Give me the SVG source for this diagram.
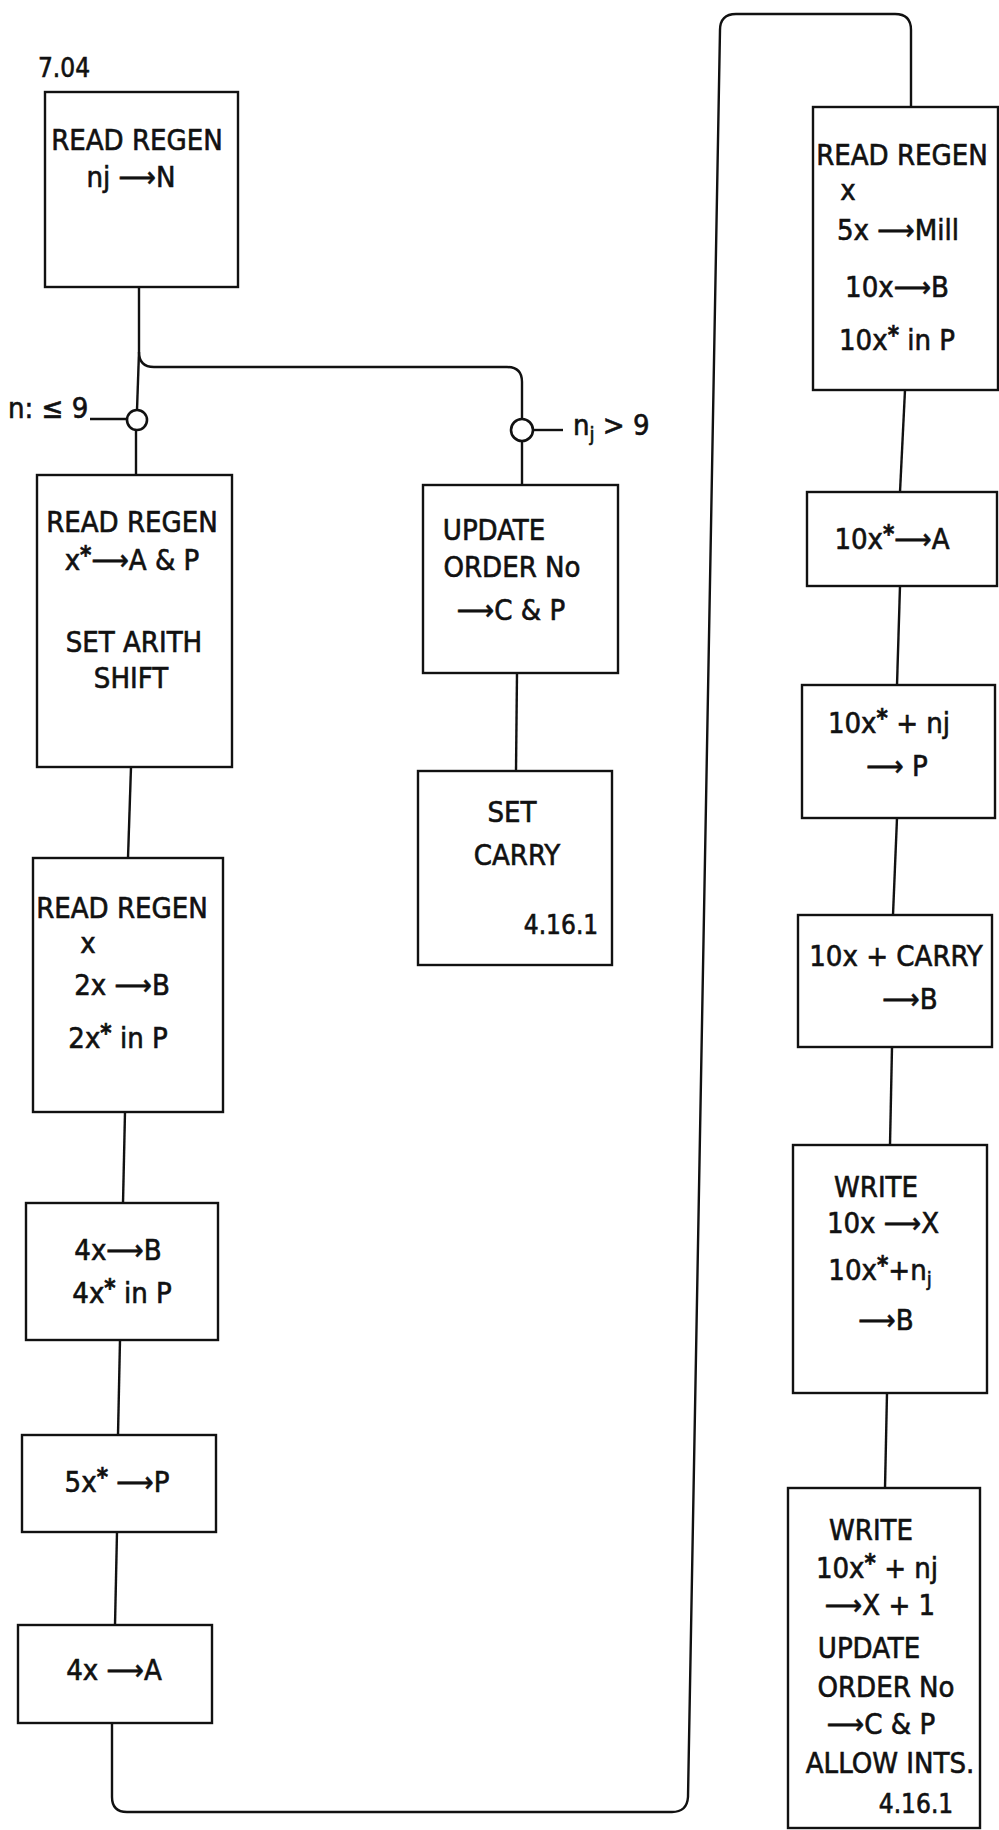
<svg xmlns="http://www.w3.org/2000/svg" width="999" height="1830" viewBox="0 0 999 1830">
<style>
  .bg{fill:#ffffff}
  .box{fill:none;stroke:#111;stroke-width:2.4}
  .ln{fill:none;stroke:#111;stroke-width:2.4;stroke-linejoin:round}
  .dot{fill:#fff;stroke:#111;stroke-width:2.6}
  text{font-family:"Liberation Sans Narrow","DejaVu Sans Condensed","Liberation Sans","DejaVu Sans",sans-serif;font-size:29px;fill:#111;stroke:#111;stroke-width:0.6;text-anchor:middle}
  .lbl{text-anchor:start}
  .sm{font-size:26px}
  .st{font-size:24px;font-weight:bold}
  .sub{font-size:20px}
</style>
<rect class="bg" x="0" y="0" width="999" height="1830"/>

<g id="connectors">
  <path class="ln" d="M139 287 V352 Q139 367 154 367 H507 Q522 367 522 382 V419"/>
  <path class="ln" d="M139 352 L137 410"/>
  <path class="ln" d="M90 419 H127"/>
  <path class="ln" d="M136 430 L136 475"/>
  <path class="ln" d="M533 430 H563"/>
  <path class="ln" d="M522 441 V485"/>
  <path class="ln" d="M517 673 L516 771"/>
  <path class="ln" d="M131 767 L128 858"/>
  <path class="ln" d="M125 1112 L123 1203"/>
  <path class="ln" d="M120 1340 L118 1435"/>
  <path class="ln" d="M117 1532 L115 1625"/>
  <path class="ln" d="M112 1723 V1797 Q112 1812 127 1812 H672 Q687 1812 688 1797 L720 30 Q720 14 736 14 H895 Q911 14 911 30 V107"/>
  <path class="ln" d="M905 390 L900 492"/>
  <path class="ln" d="M900 586 L897 685"/>
  <path class="ln" d="M897 818 L893 915"/>
  <path class="ln" d="M892 1047 L890 1145"/>
  <path class="ln" d="M887 1393 L885 1488"/>
</g>

<g id="title">
  <text x="64" y="77" class="sm">7.04</text>
</g>

<g id="n1">
  <rect class="box" x="45" y="92" width="193" height="195"/>
  <text x="137" y="150">READ REGEN</text>
  <text x="131" y="187">nj ⟶N</text>
</g>

<g id="d1">
  <circle class="dot" cx="137" cy="420" r="10"/>
  <text x="8" y="418" class="lbl">n: ≤ 9</text>
</g>

<g id="d2">
  <circle class="dot" cx="522" cy="430" r="11"/>
  <text x="573" y="435" class="lbl">n<tspan class="sub" dy="6">j</tspan><tspan dy="-6"> &gt; 9</tspan></text>
</g>

<g id="n2">
  <rect class="box" x="37" y="475" width="195" height="292"/>
  <text x="132" y="532">READ REGEN</text>
  <text x="132" y="570">x<tspan class="st" dy="-7">*</tspan><tspan dy="7">⟶A &amp; P</tspan></text>
  <text x="134" y="652">SET ARITH</text>
  <text x="131" y="688">SHIFT</text>
</g>

<g id="n3">
  <rect class="box" x="33" y="858" width="190" height="254"/>
  <text x="122" y="918">READ REGEN</text>
  <text x="88" y="953">x</text>
  <text x="122" y="995">2x ⟶B</text>
  <text x="118" y="1048">2x<tspan class="st" dy="-7">*</tspan><tspan dy="7"> in P</tspan></text>
</g>

<g id="n4">
  <rect class="box" x="26" y="1203" width="192" height="137"/>
  <text x="118" y="1260">4x⟶B</text>
  <text x="122" y="1303">4x<tspan class="st" dy="-7">*</tspan><tspan dy="7"> in P</tspan></text>
</g>

<g id="n5">
  <rect class="box" x="22" y="1435" width="194" height="97"/>
  <text x="117" y="1492">5x<tspan class="st" dy="-7">*</tspan><tspan dy="7"> ⟶P</tspan></text>
</g>

<g id="n6">
  <rect class="box" x="18" y="1625" width="194" height="98"/>
  <text x="114" y="1680">4x ⟶A</text>
</g>

<g id="n7">
  <rect class="box" x="423" y="485" width="195" height="188"/>
  <text x="494" y="540">UPDATE</text>
  <text x="512" y="577">ORDER No</text>
  <text x="511" y="620">⟶C &amp; P</text>
</g>

<g id="n8">
  <rect class="box" x="418" y="771" width="194" height="194"/>
  <text x="512" y="822">SET</text>
  <text x="517" y="865">CARRY</text>
  <text x="561" y="934" class="sm">4.16.1</text>
</g>

<g id="n9">
  <rect class="box" x="813" y="107" width="185" height="283"/>
  <text x="902" y="165">READ REGEN</text>
  <text x="848" y="200">x</text>
  <text x="898" y="240">5x ⟶Mill</text>
  <text x="897" y="297">10x⟶B</text>
  <text x="897" y="350">10x<tspan class="st" dy="-7">*</tspan><tspan dy="7"> in P</tspan></text>
</g>

<g id="n10">
  <rect class="box" x="807" y="492" width="190" height="94"/>
  <text x="892" y="549">10x<tspan class="st" dy="-7">*</tspan><tspan dy="7">⟶A</tspan></text>
</g>

<g id="n11">
  <rect class="box" x="802" y="685" width="193" height="133"/>
  <text x="889" y="733">10x<tspan class="st" dy="-7">*</tspan><tspan dy="7"> + nj</tspan></text>
  <text x="897" y="776">⟶ P</text>
</g>

<g id="n12">
  <rect class="box" x="798" y="915" width="194" height="132"/>
  <text x="896" y="966">10x + CARRY</text>
  <text x="910" y="1009">⟶B</text>
</g>

<g id="n13">
  <rect class="box" x="793" y="1145" width="194" height="248"/>
  <text x="876" y="1197">WRITE</text>
  <text x="883" y="1233">10x ⟶X</text>
  <text x="880" y="1280">10x<tspan class="st" dy="-7">*</tspan><tspan dy="7">+n</tspan><tspan class="sub" dy="6">j</tspan></text>
  <text x="886" y="1330">⟶B</text>
</g>

<g id="n14">
  <rect class="box" x="788" y="1488" width="192" height="340"/>
  <text x="871" y="1540">WRITE</text>
  <text x="877" y="1578">10x<tspan class="st" dy="-7">*</tspan><tspan dy="7"> + nj</tspan></text>
  <text x="880" y="1615">⟶X + 1</text>
  <text x="869" y="1658">UPDATE</text>
  <text x="886" y="1697">ORDER No</text>
  <text x="881" y="1734">⟶C &amp; P</text>
  <text x="890" y="1773">ALLOW INTS.</text>
  <text x="916" y="1813" class="sm">4.16.1</text>
</g>
</svg>
